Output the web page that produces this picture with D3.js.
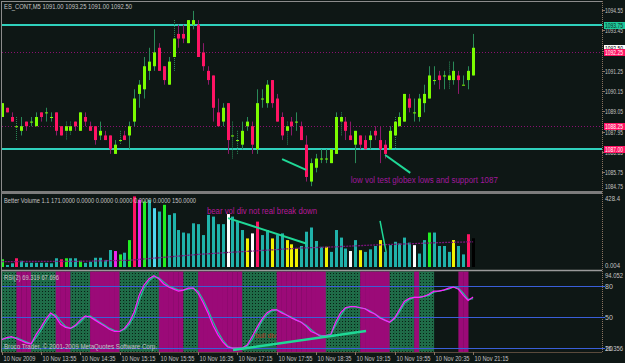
<!DOCTYPE html>
<html lang="en">
<head>
<meta charset="UTF-8">
<title>ES_CONT,M5</title>
<script src="https://cdn.jsdelivr.net/npm/d3@7"></script>
<style>
    body { margin: 0; background: #0e1715; }
    svg { display: block; }
    text { font-family: "Liberation Sans", Arial, sans-serif; }
</style>
</head>
<body>
<div id="output"></div>
<script>

// M5 bars, 13:15 .. 21:15
var openP = [1088.75,1089.25,1088.75,1088.25,1088.00,1088.50,1088.50,1088.25,1089.00,1089.00,
    1088.75,1089.00,1088.25,1088.00,1088.00,1088.50,1088.00,1088.75,1088.25,1088.25,
    1087.75,1087.75,1087.75,1086.75,1087.50,1087.75,1087.75,1088.50,1090.00,1090.25,
    1091.25,1091.50,1092.50,1091.50,1090.50,1092.00,1093.25,1093.25,1092.75,1093.75,
    1093.75,1092.25,1091.25,1091.00,1089.00,1088.50,1089.50,1087.75,1087.50,1087.25,
    1088.25,1088.25,1087.00,1089.75,1089.50,1090.75,1089.75,1088.75,1088.00,1088.50,
    1088.50,1088.25,1087.25,1085.25,1086.00,1086.50,1086.50,1086.25,1086.75,1088.50,
    1088.50,1087.75,1087.25,1087.75,1087.50,1087.50,1088.00,1087.50,1087.25,1087.00,
    1087.75,1088.25,1088.50,1089.75,1089.00,1088.75,1089.50,1089.75,1090.75,1091.00,
    1091.00,1090.75,1090.75,1091.00,1090.50,1090.75,1091.00];
var highP = [1089.50,1089.25,1089.00,1088.75,1088.75,1088.50,1088.75,1089.00,1089.00,1089.25,
    1089.00,1089.00,1088.25,1088.50,1088.50,1088.50,1089.00,1089.00,1088.50,1088.25,
    1088.50,1088.00,1087.75,1087.50,1088.00,1088.00,1088.50,1090.25,1090.75,1092.00,
    1092.50,1093.50,1092.75,1091.50,1092.00,1094.00,1093.75,1093.75,1094.00,1094.50,
    1094.00,1092.75,1091.50,1091.00,1089.75,1089.50,1089.50,1088.50,1088.00,1088.50,
    1088.75,1088.50,1090.25,1090.25,1090.75,1090.75,1090.00,1089.00,1088.50,1088.75,
    1089.00,1088.50,1087.75,1086.50,1086.75,1087.00,1087.00,1087.00,1089.00,1089.00,
    1088.75,1088.50,1088.00,1087.75,1087.75,1088.00,1088.25,1088.25,1087.50,1088.25,
    1088.75,1089.00,1090.00,1090.00,1089.75,1090.00,1090.50,1091.50,1091.50,1091.25,
    1091.25,1091.75,1091.75,1091.25,1091.00,1091.50,1093.25];
var lowP = [1088.75,1089.00,1088.50,1087.50,1087.75,1088.00,1088.25,1088.25,1088.50,1088.50,
    1088.50,1087.75,1087.75,1087.50,1087.75,1088.00,1088.00,1088.25,1088.00,1087.25,
    1087.50,1087.50,1086.75,1086.75,1087.25,1087.50,1087.00,1088.25,1089.25,1089.75,
    1090.75,1091.25,1091.25,1090.50,1090.50,1091.25,1092.50,1092.75,1092.75,1093.50,
    1092.00,1091.25,1090.50,1088.50,1088.25,1088.25,1086.75,1086.50,1086.75,1087.00,
    1088.00,1086.75,1086.75,1089.25,1089.25,1089.25,1088.50,1087.50,1087.25,1087.75,
    1088.00,1087.50,1085.25,1085.00,1085.75,1086.25,1086.25,1086.25,1086.75,1087.75,
    1087.50,1087.50,1086.25,1087.00,1087.00,1087.00,1087.50,1086.25,1086.50,1087.00,
    1087.00,1088.25,1088.50,1089.00,1088.50,1088.50,1089.00,1089.75,1090.50,1090.25,
    1090.25,1090.25,1090.50,1090.00,1090.50,1090.25,1091.00];
var closeP = [1089.50,1089.00,1088.50,1088.25,1088.25,1088.25,1088.50,1088.75,1088.75,1089.00,
    1088.75,1088.00,1087.75,1088.25,1088.25,1088.25,1089.00,1088.50,1088.00,1087.50,
    1088.00,1087.50,1087.00,1087.25,1087.50,1087.50,1088.25,1089.75,1090.50,1091.50,
    1091.75,1092.25,1091.25,1090.75,1091.75,1093.00,1093.00,1093.00,1094.00,1094.00,
    1092.00,1091.50,1090.75,1089.25,1088.25,1089.25,1087.50,1087.75,1087.50,1088.00,
    1088.50,1087.25,1089.50,1089.75,1090.50,1089.50,1088.50,1087.75,1088.25,1088.25,
    1088.50,1087.50,1085.50,1086.25,1086.50,1086.50,1086.50,1087.00,1088.75,1088.75,
    1088.00,1087.50,1088.00,1087.25,1087.00,1087.75,1087.75,1087.00,1086.75,1088.00,
    1088.50,1088.75,1090.00,1089.25,1089.00,1089.75,1090.00,1091.00,1090.75,1090.75,
    1091.00,1091.00,1091.25,1090.75,1090.50,1091.25,1092.50];
// bars whose shadow is drawn dotted
var dottedBars = [3, 13, 14, 24, 35, 47, 48, 58, 69, 80, 91];

// Better Volume
var volume = [46,12,22,52,37,25,25,25,25,25, 22,52,46,52,52,52,37,25,31,55,
    55,42,101,95,75,85,160,420,400,390, 400,350,330,370,310,320,220,205,200,260,
    255,190,310,300,255,255,315,300,270,220, 170,200,270,190,220,170,190,200,160,135,
    110,125,210,235,155,120,120,90,220,175, 110,95,160,100,90,105,125,160,90,130,
    150,140,175,145,130,80,160,205,205,125, 125,90,160,125,75,195,171];
var volType = "gttrttttttttrgttgttttttmgtgrmgtctgttttttttttttwtttywrttyttyyytttttyttttwtytttyttttttwttgttttyttr";
var volAvgBars = [0, 16, 26, 30, 34, 40, 47, 54, 61, 68, 75, 82, 89, 96];
var volAvgVals = [32, 34, 40, 50, 60, 75, 88, 100, 113, 120, 130, 137, 145, 150];

// RSI(2) and its signal
var rsi = [28,30,31,29,27,25,24,33,40,48, 54,50,43,40,39,42,47,51,50,47,
    44,41,38,36,36,39,45,55,71,81, 87,90,87,82,79,77,75,76,78,78,
    73,64,54,42,33,26,21,20,20,20, 23,31,40,48,54,57,57,54,52,49,
    47,45,41,36,34,31,32,33,45,54, 59,60,60,59,58,55,53,49,47,45,
    49,57,65,68,69,69,70,72,75,75, 76,78,79,77,71,66,69.3];
var rsiSig = [29,29,30,30,28,26,24,30,37,45, 52,52,46,41,39,41,45,50,51,48,
    45,42,39,37,36,38,43,51,66,78, 85,89,88,84,80,78,76,76,77,78,
    75,67,57,46,36,28,22,20,20,20, 22,28,37,46,52,56,57,55,52,50,
    47,45,42,38,34,32,32,33,42,51, 58,60,60,59,58,56,53,50,47,45,
    48,55,63,67,69,69,70,71,74,75, 76,77,79,78,73,67,67.7];
// background state per bar: g = green, m = magenta, n = none
var rsiBand = "gggmmmgggggmmmggggmmmmmmggggggggmmmmmgggmmmmmmmmmgggggggmmmmmmmmmmgggggggmmmmmmgggggmgggnnnnnmmnn";
var rsiLevels = [80, 50, 20];

var priceTicks = [1094.55, 1093.45, 1092.35, 1091.25, 1090.15, 1089.05, 1087.95, 1086.85, 1085.75];
var timeLabelBars = [0, 8, 16, 24, 32, 40, 48, 56, 64, 72, 80, 88, 96];
var timeLabels = ["10 Nov 2009", "10 Nov 13:55", "10 Nov 14:35", "10 Nov 15:15", "10 Nov 15:55",
    "10 Nov 16:35", "10 Nov 17:15", "10 Nov 17:55", "10 Nov 18:35", "10 Nov 19:15",
    "10 Nov 19:55", "10 Nov 20:35", "10 Nov 21:15"];

// horizontal levels drawn on the price chart
var levelPrices = [1093.75, 1092.25, 1088.25, 1087.00];
var levelKind = ["support", "dot", "dot", "support"];

// hand drawn trend lines (bar index, value)
var priceLine1 = [[57.1, 1086.47], [62.0, 1085.88]];
var priceLine2 = [[78.1, 1086.69], [83.2, 1085.72]];
var volLine1 = [[46.1, 291], [62.0, 140]];
var volLine2 = [[77.05, 274], [77.65, 184], [78.3, 89]];
var rsiLine = [[47.1, 18.1], [74.2, 36.5]];

var w = 625;
var h = 363;
var axisX = 602;

var svg = d3.select("#output")
    .append("svg")
    .attr("width", w)
    .attr("height", h)
    .style("background-color", "#0e1715");

var xScale = d3.scaleLinear().domain([0, 96]).range([1.7, 473.1]);
var yPrice = d3.scaleLinear().domain([1084.74, 1094.98]).range([191, 2]);
var yVol = d3.scaleLinear().domain([0, 428.4]).range([267, 195]);
var yRsi = d3.scaleLinear().domain([16.356, 94.052]).range([351.8, 271.5]);

function bx(i) { return Math.round(xScale(i)) + 0.5; }

function label(g, str, x, y, size, color, len) {
    var t = g.append("text")
        .text(str)
        .attr("x", x)
        .attr("y", y)
        .attr("fill", color)
        .style("font-size", size + "px");
    if (len) t.attr("textLength", len).attr("lengthAdjust", "spacingAndGlyphs");
    return t;
}

var defs = svg.append("defs");
var pat = defs.append("pattern")
    .attr("id", "dots")
    .attr("width", 3).attr("height", 3)
    .attr("patternUnits", "userSpaceOnUse");
pat.append("rect").attr("width", 3).attr("height", 3).attr("fill", "#1f6c48");
pat.append("rect").attr("width", 1).attr("height", 1).attr("fill", "#082014");

/*
* RSI background bands
* */
var rsiLayer = svg.append("g");
d3.range(96).forEach(function(i) {
    var s = rsiBand[i];
    if (s === "n") return;
    var x0 = i === 0 ? 2 : xScale(i);
    rsiLayer.append("rect")
        .attr("x", x0)
        .attr("y", 271.5)
        .attr("width", xScale(i + 1) - x0 + 0.3)
        .attr("height", 80.5)
        .attr("fill", s === "g" ? "url(#dots)" : "#9b0a78");
});

rsiLevels.forEach(function(v) {
    rsiLayer.append("line")
        .attr("x1", 2).attr("x2", axisX)
        .attr("y1", Math.round(yRsi(v)) + 0.5).attr("y2", Math.round(yRsi(v)) + 0.5)
        .attr("stroke", "#3a5fd8").attr("stroke-width", 1);
});

var rsiGen = d3.line()
    .x(function(d, i){ return xScale(i); })
    .y(function(d){ return yRsi(d); });

rsiLayer.append("path")
    .attr("d", rsiGen(rsiSig))
    .attr("fill", "none").attr("stroke", "#1fbf9a").attr("stroke-width", 1.2);
rsiLayer.append("path")
    .attr("d", rsiGen(rsi))
    .attr("fill", "none").attr("stroke", "#ff22ff").attr("stroke-width", 1.2);

/*
* price levels
* */
var priceLayer = svg.append("g");
levelPrices.forEach(function(p, k) {
    var y = Math.round(yPrice(p));
    if (levelKind[k] === "support") {
        priceLayer.append("line")
            .attr("x1", 2).attr("x2", axisX).attr("y1", y).attr("y2", y)
            .attr("stroke", "#2fd0bc").attr("stroke-width", 2);
    } else {
        priceLayer.append("line")
            .attr("x1", 2).attr("x2", axisX).attr("y1", y + 0.5).attr("y2", y + 0.5)
            .attr("stroke", "#8a1070").attr("stroke-width", 1)
            .attr("stroke-dasharray", "1,2");
    }
});

/*
* candles
* */
openP.forEach(function(o, i) {
    var c = closeP[i];
    var up = c >= o;
    var x = bx(i);
    var wick = priceLayer.append("line")
        .attr("x1", x).attr("x2", x)
        .attr("y1", yPrice(highP[i])).attr("y2", yPrice(lowP[i]))
        .attr("stroke", up ? "#2a8a58" : "#8c1a6a").attr("stroke-width", 1);
    if (dottedBars.indexOf(i) >= 0) wick.attr("stroke-dasharray", "1,1");
    var top = yPrice(Math.max(o, c));
    var hgt = Math.max(1, yPrice(Math.min(o, c)) - top);
    priceLayer.append("rect")
        .attr("x", x - 1.5)
        .attr("y", top)
        .attr("width", 3)
        .attr("height", hgt)
        .attr("fill", up ? "#7cfc00" : "#ff1464");
});

function trend(g, pts, ys, width) {
    var gen = d3.line()
        .x(function(d){ return xScale(d[0]); })
        .y(function(d){ return ys(d[1]); });
    g.append("path")
        .attr("d", gen(pts))
        .attr("fill", "none")
        .attr("stroke", "#1fd896")
        .attr("stroke-width", width);
}
trend(priceLayer, priceLine1, yPrice, 2);
trend(priceLayer, priceLine2, yPrice, 2);
label(priceLayer, "low vol test globex lows and support 1087", xScale(71.1), yPrice(1085.17), 8.5, "#a0189c", 147);

/*
* volume
* */
var volColors = { t: "#20b2aa", r: "#ff1464", g: "#22ee22", m: "#ee22ee", y: "#f2f200", w: "#ffffff", c: "#50d8f0" };
var volLayer = svg.append("g");
volLayer.selectAll("rect")
    .data(volume)
    .enter()
    .append("rect")
        .attr("x", function(d, i){ return bx(i) - 1.5; })
        .attr("y", function(d){ return yVol(d); })
        .attr("width", 3)
        .attr("height", function(d){ return yVol(0) - yVol(d); })
        .attr("fill", function(d, i){ return volColors[volType[i]]; });

var avgGen = d3.line()
    .x(function(d){ return xScale(d); })
    .y(function(d, k){ return yVol(volAvgVals[k]); });
volLayer.append("path")
    .attr("d", avgGen(volAvgBars))
    .attr("fill", "none").attr("stroke", "#7a147a").attr("stroke-width", 1.3)
    .attr("stroke-dasharray", "2,1");

trend(volLayer, volLine1, yVol, 2);
trend(volLayer, volLine2, yVol, 1.5);
label(volLayer, "bear vol div not real break down", xScale(41.8), yVol(315), 8.5, "#b8189a", 110);

/*
* frames and separators
* */
var frame = svg.append("g");
frame.append("line").attr("x1", 1).attr("x2", axisX).attr("y1", 1.5).attr("y2", 1.5)
    .attr("stroke", "#8c8c8c");
frame.append("line").attr("x1", 1.5).attr("x2", 1.5).attr("y1", 1).attr("y2", 352)
    .attr("stroke", "#8c8c8c");
frame.append("rect").attr("x", 1).attr("y", 191).attr("width", axisX - 1).attr("height", 3)
    .attr("fill", "#7c7c7c");
frame.append("line").attr("x1", 1).attr("x2", axisX).attr("y1", 270.5).attr("y2", 270.5)
    .attr("stroke", "#9a9a9a").attr("stroke-width", 1.5);
frame.append("line").attr("x1", 1).attr("x2", axisX).attr("y1", 352.5).attr("y2", 352.5)
    .attr("stroke", "#5a4a3c");
frame.append("line").attr("x1", axisX + 0.5).attr("x2", axisX + 0.5).attr("y1", 1).attr("y2", 353)
    .attr("stroke", "#8a7462").attr("stroke-dasharray", "1,1");

/*
* axis labels
* */
var axisLayer = svg.append("g");
var txt = "#c4c4c4";
priceTicks.forEach(function(p) {
    var y = Math.round(yPrice(p)) + 0.5;
    axisLayer.append("line").attr("x1", axisX).attr("x2", axisX + 3).attr("y1", y).attr("y2", y)
        .attr("stroke", "#8a7462");
    label(axisLayer, d3.format(".2f")(p), 605, y + 2.5, 7, txt, 18);
});
label(axisLayer, "1084.75", 605, 189, 7, txt, 18);

function box(p, bg, fg) {
    var y = Math.round(yPrice(p));
    axisLayer.append("rect").attr("x", 604).attr("y", y - 3).attr("width", 21).attr("height", 7)
        .attr("fill", bg);
    label(axisLayer, d3.format(".2f")(p), 605, y + 2.8, 7, fg, 18);
}
box(levelPrices[0], "#1ec89c", "#0a2a20");
box(closeP[96], "#ffffff", "#000000");
box(levelPrices[1], "#ff1464", "#ffffff");
box(levelPrices[2], "#ff1464", "#ffffff");
box(levelPrices[3], "#ff1464", "#ffffff");

label(axisLayer, "428.4", 605, 200.5, 7, txt, 15);
label(axisLayer, "0.004", 605, 267.5, 7, txt, 15);

label(axisLayer, "94.052", 605, 277.5, 7, txt, 18);
rsiLevels.forEach(function(v) {
    var y = Math.round(yRsi(v)) + 0.5;
    axisLayer.append("line").attr("x1", axisX).attr("x2", axisX + 3).attr("y1", y).attr("y2", y)
        .attr("stroke", "#3a5fd8");
    label(axisLayer, String(v), 605, y + 2.5, 7, txt);
});
label(axisLayer, "16.356", 605, 351, 7, txt, 18);

timeLabelBars.forEach(function(b, k) {
    var x = Math.round(xScale(b)) + 0.5;
    axisLayer.append("line").attr("x1", x).attr("x2", x).attr("y1", 352).attr("y2", 355)
        .attr("stroke", "#8a7462");
    label(axisLayer, timeLabels[k], x + 1, 360.5, 7, txt, k === 0 ? 32 : 34);
});

/*
* headers
* */
label(svg, "ES_CONT,M5  1091.00 1093.25 1091.00 1092.50", 4, 8.5, 7, txt, 128);
label(svg, "Better Volume 1.1  171.0000 0.0000 0.0000 0.0000 0.0000 0.0000 150.0000", 4, 202.5, 7, txt, 192);
label(svg, "RSI(2) 69.319 67.696", 4, 280, 7, txt, 55);
label(svg, "Broco Trader, \u00a9 2001-2009 MetaQuotes Software Corp.", 4, 348.5, 7, txt, 153);
trend(rsiLayer, rsiLine, yRsi, 2.5);
label(rsiLayer, "bull div", xScale(51.6), yRsi(29.5), 8, "#c0301c", 21);

</script>
</body>
</html>
